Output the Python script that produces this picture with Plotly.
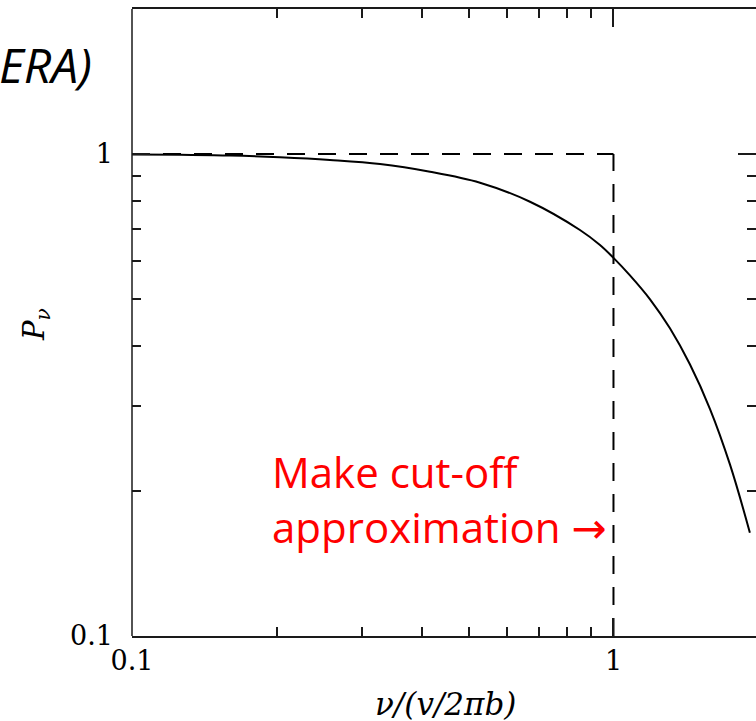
import plotly.graph_objects as go

# Spectrum P_nu versus normalised frequency nu/(v/2*pi*b)
freq = [0.1, 0.1258, 0.1598, 0.2029, 0.2577, 0.3274, 0.4159, 0.5282, 0.6708,
        0.8518, 0.9375, 1.0, 1.082, 1.191, 1.310, 1.441, 1.586, 1.746, 1.920]
power = [0.9976, 0.996, 0.9929, 0.9844, 0.9718, 0.9534, 0.9189, 0.8719, 0.7961,
         0.6956, 0.6474, 0.6088, 0.560, 0.4995, 0.4349, 0.3662, 0.2961, 0.2267, 0.1638]

# Cut-off approximation: flat at 1 up to nu = v/2*pi*b
cut_x = [0.1, 1.0]
cut_y = [1.0, 1.0]
drop_x = [1.0, 1.0]
drop_y = [0.1, 1.0]

major_ticks = [0.1, 1]
major_labels = ["0.1", "1"]
minor_x = [0.2, 0.3, 0.4, 0.5, 0.6, 0.7, 0.8, 0.9, 2]
minor_y = [0.2, 0.3, 0.4, 0.5, 0.6, 0.7, 0.8, 0.9, 2]

W, H = 756, 721
L, R, T, B = 132, 0, 9, 85

serif = "DejaVu Serif"
frame = "#1a1a1a"


def px_x(p):
    return (p - L) / (W - L - R)


def px_y(p):
    return (H - B - p) / (H - T - B)


fig = go.Figure()
fig.add_trace(go.Scatter(x=cut_x, y=cut_y, mode="lines",
                         line=dict(color="black", width=2, dash="18px,13px"),
                         hoverinfo="skip"))
fig.add_trace(go.Scatter(x=drop_x, y=drop_y, mode="lines",
                         line=dict(color="black", width=2, dash="18px,13px"),
                         hoverinfo="skip"))
fig.add_trace(go.Scatter(x=freq, y=power, mode="lines",
                         line=dict(color="black", width=2, shape="spline", smoothing=1.0)))

axis_common = dict(
    type="log",
    showgrid=False,
    zeroline=False,
    ticks="inside",
    ticklen=18,
    tickwidth=1.5,
    tickcolor=frame,
    mirror="ticks",
    tickvals=major_ticks,
    ticktext=major_labels,
    tickfont=dict(family=serif, size=27, color="black"),
    minor=dict(ticks="inside", ticklen=9, tickwidth=1.5, tickcolor=frame,
               showgrid=False),
)

fig.update_layout(
    width=W, height=H,
    margin=dict(l=L, r=R, t=T, b=B, pad=0),
    paper_bgcolor="white", plot_bgcolor="white",
    showlegend=False,
    xaxis=dict(axis_common, range=[-1, 0.296], showline=True, linewidth=1.5,
               linecolor=frame, minor=dict(axis_common["minor"], tickvals=minor_x)),
    yaxis=dict(axis_common, range=[-1, 0.3008], showline=False,
               ticklabelstandoff=18,
               minor=dict(axis_common["minor"], tickvals=minor_y)),
)

# left edge of the frame
fig.add_shape(type="line", xref="paper", yref="paper", x0=0, x1=0, y0=0, y1=1,
              line=dict(color=frame, width=1.5))

fig.add_annotation(xref="paper", yref="paper", x=px_x(445), y=px_y(704),
                   text="<i>ν/(v/2πb)</i>", showarrow=False,
                   font=dict(family=serif, size=31, color="black"),
                   xanchor="center", yanchor="middle")
fig.add_annotation(xref="paper", yref="paper", x=px_x(36), y=px_y(325),
                   text="<i>P</i><sub><i>ν</i></sub>", showarrow=False, textangle=-90,
                   font=dict(family=serif, size=29, color="black"),
                   xanchor="center", yanchor="middle")

fig.add_annotation(xref="paper", yref="paper", x=px_x(94), y=px_y(64),
                   text="<i>ERA)</i>", showarrow=False,
                   font=dict(family="Open Sans", size=48, color="black"),
                   xanchor="right", yanchor="middle")
fig.add_annotation(xref="paper", yref="paper", x=px_x(270), y=px_y(441),
                   text=("Make cut-off<br>approximation "
                         "<span style='font-family:DejaVu Sans'>→</span>"),
                   showarrow=False, align="left",
                   font=dict(family="Open Sans", size=42, color="#ff0000"),
                   xanchor="left", yanchor="top")

fig.write_html("out.html")
